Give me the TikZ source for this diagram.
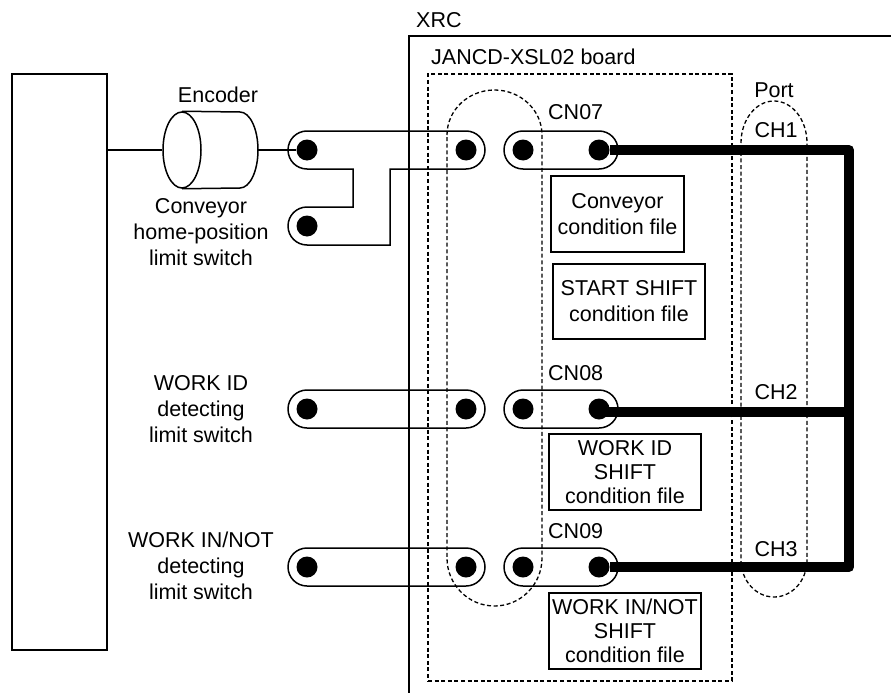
\documentclass[tikz,border=0pt]{standalone}
\usepackage{fontspec}
\setmainfont{Liberation Sans}
\usetikzlibrary{shapes.misc,shapes.geometric,calc}
\tikzset{
  ln/.style={line width=1.5pt},
  txt/.style={font=\fontsize{21.5}{26}\selectfont,align=center,inner sep=0pt},
  filebox/.style={draw,line width=1.5pt,align=center,inner sep=0pt,font=\fontsize{21.5}{26}\selectfont},
  slotbox/.style={draw,line width=1.5pt,rounded rectangle,minimum height=38pt,inner sep=0pt},
  pindot/.style={circle,fill=black,minimum size=21pt,inner sep=0pt},
  dashline/.style={line width=1.3pt,dash pattern=on 4pt off 2.6pt},
  heavyline/.style={line width=10pt,line join=round}
}
\begin{document}
\begin{tikzpicture}[x=1pt,y=-1pt]
\useasboundingbox (0,0) rectangle (891,693);
% outer boxes
\node[draw,ln,minimum width=95pt,minimum height=576pt,inner sep=0pt] (machine) at (59.5,362) {};
\draw[ln] (409,693) -- (409,36) -- (891,36);
\node[txt,anchor=west] (xrc) at (416,20) {XRC};
\node[draw,dashline,minimum width=304pt,minimum height=607pt,inner sep=0pt] (board) at (580,377.5) {};
\node[txt,anchor=west] (boardlab) at (431,57) {JANCD-XSL02 board};
% encoder
\node[draw,ln,ellipse,minimum width=38pt,minimum height=76pt,inner sep=0pt] (enc) at (182,150) {};
\coordinate (encR) at (258,150);
\draw[ln] (enc.north) -- (240,112) arc(-90:90:18 and 38) -- (enc.south);
\node[txt] (enclab) at (218,95) {Encoder};
\node[txt] (homelab) at (201,232) {Conveyor\\home-position\\limit switch};
% pins
\node[pindot] (a1) at (307,150) {};
\node[pindot] (b1) at (466,150) {};
\node[pindot] (a0) at (307,226) {};
\node[pindot] (c1) at (523,150) {};
\node[pindot] (e1) at (599,150) {};
\node[pindot] (a2) at (307,409) {};
\node[pindot] (b2) at (466,409) {};
\node[pindot] (c2) at (523,409) {};
\node[pindot] (e2) at (599,409) {};
\node[pindot] (a3) at (307,567) {};
\node[pindot] (b3) at (466,567) {};
\node[pindot] (c3) at (523,567) {};
\node[pindot] (e3) at (599,567) {};
% wires
\draw[ln] (machine.east |- enc.west) -- (enc.west);
\draw[ln] (encR) -- (a1);
% slots
\draw[ln] (307,131) -- (466,131) arc(-90:90:19) -- (390,169) -- (390,245) -- (307,245)
  arc(90:270:19) -- (353,207) -- (353,169) -- (307,169) arc(90:270:19) -- cycle;
\node[slotbox,minimum width=114pt] (s1) at (561,150) {};
\node[slotbox,minimum width=197pt] (l2) at (386.5,409) {};
\node[slotbox,minimum width=114pt] (s2) at (561,409) {};
\node[slotbox,minimum width=197pt] (l3) at (386.5,567) {};
\node[slotbox,minimum width=114pt] (s3) at (561,567) {};
% dashed groups
\draw[dashline] (447,135) arc(180:360:47.5 and 45) -- (542,558) arc(0:180:47.5 and 48) -- cycle;
\draw[dashline] (741,143) arc(180:360:33 and 42) -- (807,560) arc(0:180:33 and 37) -- cycle;
% heavy lines
\coordinate (j1) at (849,150);
\coordinate (j2) at (849,412);
\coordinate (j3) at (849,567);
\draw[heavyline] (e1) -- (j1) -- (j3) -- (e3);
\draw[heavyline] ($(e2)+(0,3)$) -- (j2);
% labels
\node[txt,anchor=west] (cn7) at (548,112) {CN07};
\node[txt,anchor=west] (cn8) at (548,373) {CN08};
\node[txt,anchor=west] (cn9) at (548,531) {CN09};
\node[txt] (port) at (774,90) {Port};
\node[txt] (ch1) at (776,130) {CH1};
\node[txt] (ch2) at (776,392) {CH2};
\node[txt] (ch3) at (776,549) {CH3};
\node[txt] (idlab) at (201,409) {WORK ID\\detecting\\limit switch};
\node[txt] (inlab) at (201,566) {WORK IN/NOT\\detecting\\limit switch};
% file boxes
\node[filebox,minimum width=133pt,minimum height=76pt] (f1) at (617.5,214) {Conveyor\\condition file};
\node[filebox,minimum width=152pt,minimum height=75pt] (f2) at (629,301.5) {START SHIFT\\condition file};
\node[filebox,minimum width=152pt,minimum height=76pt,font=\fontsize{21.5}{24}\selectfont] (f3) at (625,472) {WORK ID\\SHIFT\\condition file};
\node[filebox,minimum width=152pt,minimum height=76pt,font=\fontsize{21.5}{24}\selectfont] (f4) at (625,631) {WORK IN/NOT\\SHIFT\\condition file};
\end{tikzpicture}
\end{document}
